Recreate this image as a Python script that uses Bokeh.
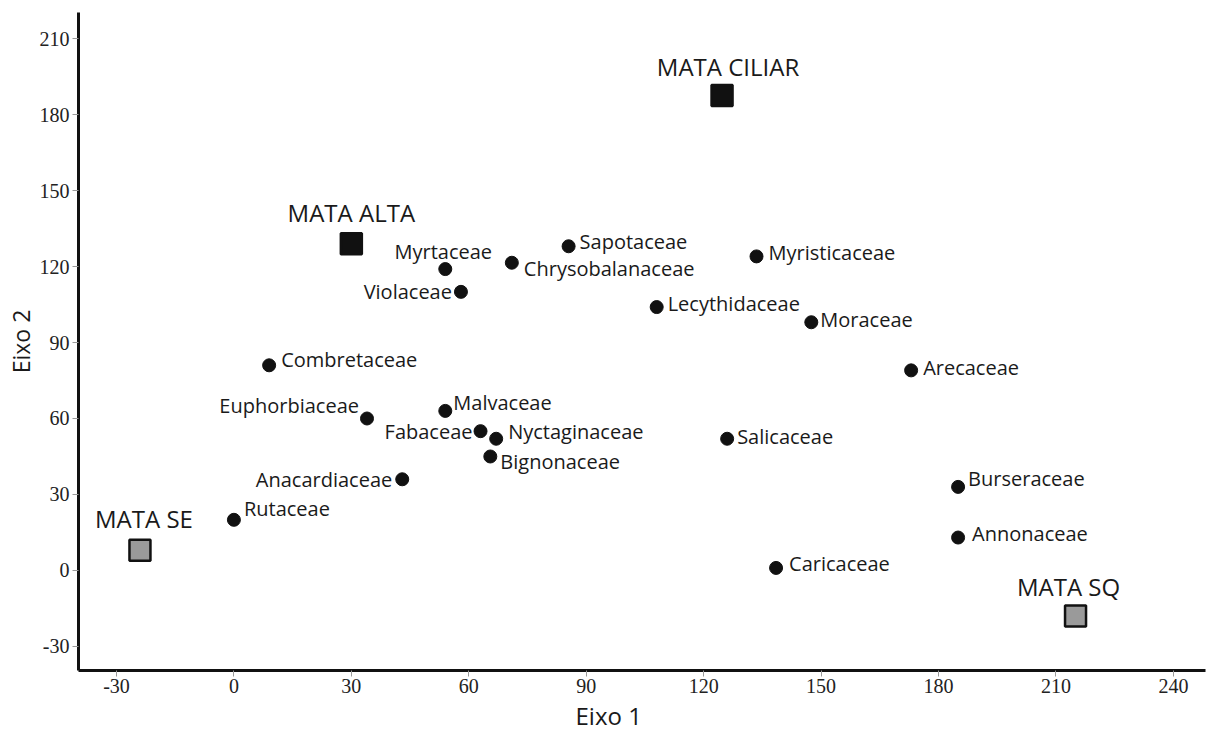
from bokeh.plotting import figure
from bokeh.models import ColumnDataSource, Range1d, FixedTicker, Title
from bokeh.embed import file_html
from bokeh.resources import INLINE
from bokeh.core.properties import value

# ---- data ----
families = ["Rutaceae", "Anacardiaceae", "Euphorbiaceae", "Combretaceae", "Malvaceae",
            "Fabaceae", "Nyctaginaceae", "Bignonaceae", "Myrtaceae", "Violaceae",
            "Chrysobalanaceae", "Sapotaceae", "Lecythidaceae", "Myristicaceae", "Moraceae",
            "Arecaceae", "Salicaceae", "Burseraceae", "Annonaceae", "Caricaceae"]
fam_x = [0, 43, 34, 9, 54, 63, 67, 65.5, 54, 58, 71, 85.5, 108, 133.5, 147.5, 173, 126, 185, 185, 138.5]
fam_y = [20, 36, 60, 81, 63, 55, 52, 45, 119, 110, 121.5, 128, 104, 124, 98, 79, 52, 33, 13, 1]

sites = ["MATA CILIAR", "MATA ALTA", "MATA SE", "MATA SQ"]
site_x = [124.7, 30, -24, 215]
site_y = [187.5, 129, 8, -18]
site_color = ["#111111", "#111111", "#9a9a9a", "#9a9a9a"]

x_ticks = [-30, 0, 30, 60, 90, 120, 150, 180, 210, 240]
y_ticks = [-30, 0, 30, 60, 90, 120, 150, 180, 210]
x_title = "Eixo 1"
y_title = "Eixo 2"

# ---- label layout (screen pixel offsets) ----
fam_dx = [10, -10, -8, 12, 8, -8, 12, 10, -2, -9, 12, 11, 11, 12, 9, 12, 10, 10, 14, 13]
fam_dy = [-11, 0, -13, -6, -8, 0, -7, 5, -18, 0, 6, -5, -4, -4, -3, -3, -2, -8, -4, -4]
fam_align = ["left", "right", "right", "left", "left", "right", "left", "left", "center", "right",
             "left", "left", "left", "left", "left", "left", "left", "left", "left", "left"]
site_dx = [6, 0, 4, -7]
site_dy = [-29, -31, -32, -30]

fam_src = ColumnDataSource(dict(x=fam_x, y=fam_y, name=families, dx=fam_dx, dy=fam_dy, align=fam_align))
site_src = ColumnDataSource(dict(x=site_x, y=site_y, name=sites, color=site_color, dx=site_dx, dy=site_dy))

p = figure(width=1209, height=734, output_backend="svg", toolbar_location=None,
           x_range=Range1d(-39.7, 248.2), y_range=Range1d(-39.5, 220.3),
           min_border_left=78, min_border_right=4, min_border_top=12, min_border_bottom=64)
p.outline_line_color = None
p.xgrid.visible = False
p.ygrid.visible = False
p.background_fill_color = "white"

label_font = value("Open Sans")

p.scatter("x", "y", source=fam_src, size=13, color="#111111")
p.text("x", "y", text="name", source=fam_src, x_offset="dx", y_offset="dy",
       text_align="align", text_baseline="middle", text_font=label_font,
       text_font_size="20px", text_color="#1a1a1a")

p.scatter("x", "y", source=site_src, marker="square", size=21, fill_color="color",
          line_color="#111111", line_width=2.5)
p.text("x", "y", text="name", source=site_src, x_offset="dx", y_offset="dy",
       text_align="center", text_baseline="middle", text_font=label_font,
       text_font_size="24px", text_color="#1a1a1a")

for ax, ticks in ((p.xaxis[0], x_ticks), (p.yaxis[0], y_ticks)):
    ax.ticker = FixedTicker(ticks=ticks)
    ax.major_label_overrides = {t: str(t) for t in ticks}
    ax.axis_line_width = 3
    ax.axis_line_color = "#111111"
    ax.major_tick_out = 6
    ax.major_tick_in = 0
    ax.major_tick_line_color = "#999999"
    ax.minor_tick_line_color = None
    ax.major_label_text_font = "Liberation Serif"
    ax.major_label_text_font_size = "20px"
    ax.major_label_text_color = "#222222"
    ax.major_label_standoff = 3

p.xaxis[0].major_label_standoff = 2

p.yaxis[0].axis_label = y_title
p.yaxis[0].axis_label_text_font = "Open Sans"
p.yaxis[0].axis_label_text_font_size = "23px"
p.yaxis[0].axis_label_text_font_style = "normal"
p.yaxis[0].axis_label_text_color = "#1a1a1a"
p.yaxis[0].axis_label_standoff = 0

p.add_layout(Title(text=x_title, align="left", offset=497, standoff=3,
                   text_font="Open Sans", text_font_size="24px", text_font_style="normal",
                   text_color="#1a1a1a"), "below")

open("out.html", "w").write(file_html(p, INLINE))
